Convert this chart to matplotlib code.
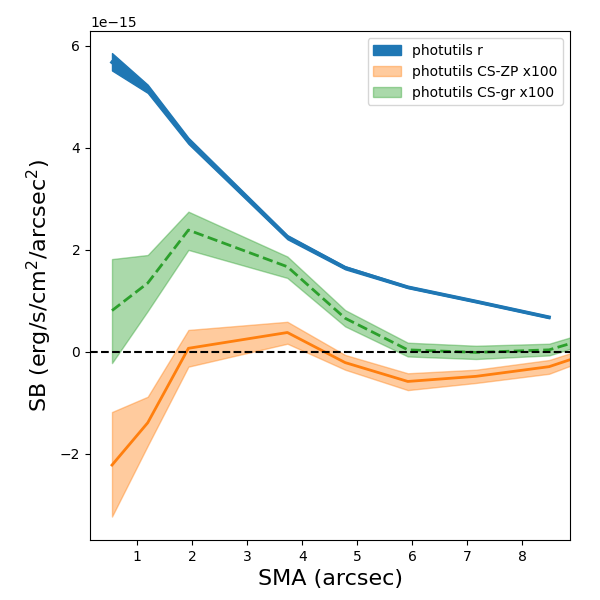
import numpy as np
import matplotlib
matplotlib.use('Agg')
import matplotlib.pyplot as plt

# SMA radii (arcsec)
sma = np.array([0.54, 1.19, 1.93, 3.73, 4.78, 5.92, 7.16, 8.49, 9.3])

# photutils r profile (units of 1e-15)
r_mid = np.array([5.68, 5.16, 4.14, 2.25, 1.65, 1.27, 0.99, 0.68, np.nan])
r_lo = np.array([5.52, 5.08, 4.08, 2.21, 1.62, 1.25, 0.97, 0.66, np.nan])
r_hi = np.array([5.86, 5.24, 4.20, 2.29, 1.68, 1.29, 1.01, 0.70, np.nan])

# CS-ZP x100
zp_mid = np.array([-2.22, -1.39, 0.07, 0.38, -0.21, -0.58, -0.48, -0.29, 0.0])
zp_lo = np.array([-3.23, -1.84, -0.29, 0.16, -0.35, -0.75, -0.61, -0.43, -0.10])
zp_hi = np.array([-1.18, -0.88, 0.43, 0.59, -0.06, -0.42, -0.35, -0.16, 0.12])

# CS-gr x100
gr_mid = np.array([0.81, 1.35, 2.39, 1.67, 0.66, 0.04, -0.01, 0.04, 0.30])
gr_lo = np.array([-0.22, 0.80, 2.00, 1.45, 0.50, -0.09, -0.14, -0.07, 0.20])
gr_hi = np.array([1.82, 1.90, 2.75, 1.87, 0.82, 0.18, 0.12, 0.16, 0.42])

scale = 1e-15

fig, ax = plt.subplots(figsize=(6, 6), dpi=100)

ax.fill_between(sma, r_lo * scale, r_hi * scale, color='C0', alpha=1.0, label='photutils r')
ax.plot(sma, r_mid * scale, color='C0', lw=2.5)

ax.fill_between(sma, zp_lo * scale, zp_hi * scale, color='C1', alpha=0.4, label='photutils CS-ZP x100')
ax.plot(sma, zp_mid * scale, color='C1', lw=2)

ax.fill_between(sma, gr_lo * scale, gr_hi * scale, color='C2', alpha=0.4, label='photutils CS-gr x100')
ax.plot(sma, gr_mid * scale, color='C2', lw=2, ls='--')

ax.axhline(0, color='k', ls='--')

ax.set_xlim(0.14, 8.87)
ax.set_ylim(-3.69e-15, 6.29e-15)
ax.set_xlabel('SMA (arcsec)', fontsize=16)
ax.set_ylabel('SB (erg/s/cm$^2$/arcsec$^2$)', fontsize=16)
ax.legend(loc='upper right')

plt.subplots_adjust(left=0.15, right=0.95, top=0.948, bottom=0.1)
plt.savefig('out.png')
